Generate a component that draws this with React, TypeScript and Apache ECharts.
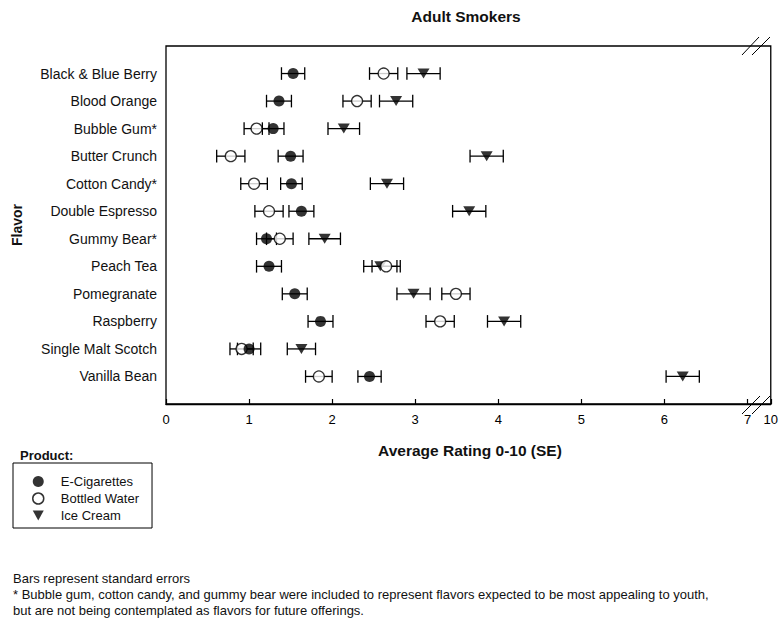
import React, { useEffect, useRef } from 'react';
import * as echarts from 'echarts';

const categories = [
  'Black & Blue Berry',
  'Blood Orange',
  'Bubble Gum*',
  'Butter Crunch',
  'Cotton Candy*',
  'Double Espresso',
  'Gummy Bear*',
  'Peach Tea',
  'Pomegranate',
  'Raspberry',
  'Single Malt Scotch',
  'Vanilla Bean',
];

const eCigMean = [1.53, 1.36, 1.29, 1.5, 1.51, 1.63, 1.21, 1.24, 1.55, 1.86, 1.0, 2.45];
const eCigSE = [0.14, 0.15, 0.13, 0.15, 0.13, 0.15, 0.12, 0.15, 0.15, 0.15, 0.14, 0.14];
const waterMean = [2.62, 2.3, 1.09, 0.78, 1.06, 1.24, 1.37, 2.65, 3.49, 3.3, 0.91, 1.84];
const waterSE = [0.17, 0.17, 0.15, 0.17, 0.16, 0.17, 0.16, 0.17, 0.17, 0.17, 0.14, 0.16];
const iceMean = [3.1, 2.77, 2.14, 3.86, 2.66, 3.65, 1.91, 2.58, 2.98, 4.07, 1.63, 6.22];
const iceSE = [0.2, 0.2, 0.19, 0.2, 0.2, 0.2, 0.19, 0.2, 0.2, 0.2, 0.17, 0.2];

const xTickLabels = ['0', '1', '2', '3', '4', '5', '6', '7', '10'];
const xTickValues = [0, 1, 2, 3, 4, 5, 6, 7, 7.28];
const seriesNames = ['E-Cigarettes', 'Bottled Water', 'Ice Cream'];

const FONT = "'Liberation Sans', Arial, Helvetica, sans-serif";

export default function App() {
  const ref = useRef<HTMLDivElement>(null);

  useEffect(() => {
    document.body.style.margin = '0';
    const chart = echarts.init(ref.current as HTMLDivElement, null, { renderer: 'svg' });

    const errData = (mean: number[], se: number[]) =>
      mean.map((m, i) => [i + 1, m - se[i], m + se[i]]);
    const ptData = (mean: number[]) => mean.map((m, i) => [m, i + 1]);

    const errSeries = (data: number[][]) => ({
      type: 'custom',
      silent: true,
      data,
      encode: { x: [1, 2], y: 0 },
      renderItem: (params: any, api: any) => {
        const y = api.value(0);
        const p1 = api.coord([api.value(1), y]);
        const p2 = api.coord([api.value(2), y]);
        const h = 6.3;
        const style = { stroke: '#000', lineWidth: 1.3 };
        return {
          type: 'group',
          children: [
            { type: 'line', shape: { x1: p1[0], y1: p1[1], x2: p2[0], y2: p2[1] }, style },
            { type: 'line', shape: { x1: p1[0], y1: p1[1] - h, x2: p1[0], y2: p1[1] + h }, style },
            { type: 'line', shape: { x1: p2[0], y1: p2[1] - h, x2: p2[0], y2: p2[1] + h }, style },
          ],
        };
      },
    });

    const option: any = {
      animation: false,
      backgroundColor: '#fff',
      textStyle: { fontFamily: FONT },
      grid: {
        left: 166,
        right: 8,
        top: 46,
        bottom: 217,
        show: true,
        borderColor: '#000',
        borderWidth: 1.3,
        backgroundColor: 'transparent',
      },
      xAxis: {
        type: 'value',
        position: 'bottom',
        min: 0,
        max: 7.28,
        interval: 1,
        splitLine: { show: false },
        axisLine: { show: true, onZero: false, lineStyle: { color: '#000', width: 1.3 } },
        axisTick: {
          show: true,
          inside: true,
          length: 5,
          lineStyle: { color: '#000', width: 1.2 },
        },
        axisLabel: {
          customValues: xTickValues,
          formatter: (v: number) => {
            const idx = xTickValues.findIndex((t) => Math.abs(t - v) < 1e-6);
            return idx >= 0 ? xTickLabels[idx] : '';
          },
          color: '#000',
          fontSize: 13,
          fontFamily: FONT,
          margin: 9,
        },
      },
      yAxis: {
        type: 'value',
        inverse: true,
        min: 0,
        max: 13,
        interval: 1,
        splitLine: { show: false },
        axisLine: { show: false, onZero: false },
        axisTick: { show: false },
        axisLabel: {
          formatter: (v: number) => categories[Math.round(v) - 1] || '',
          color: '#111',
          fontSize: 14,
          fontFamily: FONT,
          margin: 9,
          showMinLabel: false,
          showMaxLabel: false,
        },
      },
      legend: {
        orient: 'vertical',
        left: 13,
        top: 463,
        padding: [12, 13, 6, 19],
        borderColor: '#000',
        borderWidth: 1,
        itemGap: 4,
        itemWidth: 11,
        itemHeight: 11,
        selectedMode: false,
        textStyle: {
          fontSize: 13,
          lineHeight: 12,
          color: '#111',
          fontFamily: FONT,
          padding: [0, 0, 0, 12],
        },
        data: [
          { name: seriesNames[0], icon: 'circle', itemStyle: { color: '#000', borderWidth: 0 } },
          {
            name: seriesNames[1],
            icon: 'circle',
            itemStyle: { color: '#fff', borderColor: '#000', borderWidth: 1.5 },
          },
          { name: seriesNames[2], icon: 'path://M0,0L10,0L5,9Z', itemStyle: { color: '#000', borderWidth: 0 } },
        ],
      },
      graphic: [
        {
          type: 'text',
          style: {
            text: 'Adult Smokers',
            x: 466,
            y: 16,
            align: 'center',
            verticalAlign: 'middle',
            font: `bold 15.5px ${FONT}`,
            fill: '#111',
          },
        },
        {
          type: 'text',
          style: {
            text: 'Average Rating 0-10 (SE)',
            x: 470,
            y: 450,
            align: 'center',
            verticalAlign: 'middle',
            font: `bold 15.5px ${FONT}`,
            fill: '#111',
          },
        },
        {
          type: 'text',
          x: 17,
          y: 225,
          rotation: Math.PI / 2,
          style: {
            text: 'Flavor',
            x: 0,
            y: 0,
            align: 'center',
            verticalAlign: 'middle',
            font: `bold 14px ${FONT}`,
            fill: '#111',
          },
        },
        {
          type: 'text',
          style: {
            text: 'Product:',
            x: 20,
            y: 455,
            align: 'left',
            verticalAlign: 'middle',
            font: `bold 13px ${FONT}`,
            fill: '#111',
          },
        },
        {
          type: 'text',
          style: {
            text: 'Bars represent standard errors',
            x: 13,
            y: 578,
            align: 'left',
            verticalAlign: 'middle',
            font: `13px ${FONT}`,
            fill: '#111',
          },
        },
        {
          type: 'text',
          style: {
            text: '* Bubble gum, cotton candy, and gummy bear were included to represent flavors expected to be most appealing to youth,',
            x: 13,
            y: 594,
            align: 'left',
            verticalAlign: 'middle',
            font: `13px ${FONT}`,
            fill: '#111',
          },
        },
        {
          type: 'text',
          style: {
            text: 'but are not being contemplated as flavors for future offerings.',
            x: 13,
            y: 610,
            align: 'left',
            verticalAlign: 'middle',
            font: `13px ${FONT}`,
            fill: '#111',
          },
        },
        // axis break marks (bottom)
        { type: 'line', shape: { x1: 742, y1: 414, x2: 760, y2: 396 }, style: { stroke: '#000', lineWidth: 1 } },
        { type: 'line', shape: { x1: 752, y1: 414, x2: 770, y2: 396 }, style: { stroke: '#000', lineWidth: 1 } },
        // axis break marks (top)
        { type: 'line', shape: { x1: 742, y1: 55, x2: 759, y2: 37 }, style: { stroke: '#000', lineWidth: 1 } },
        { type: 'line', shape: { x1: 752, y1: 55, x2: 770, y2: 37 }, style: { stroke: '#000', lineWidth: 1 } },
      ],
      series: [
        errSeries(errData(iceMean, iceSE)),
        {
          name: seriesNames[2],
          type: 'scatter',
          data: ptData(iceMean),
          symbol: 'triangle',
          symbolRotate: 180,
          symbolSize: [12, 10],
          itemStyle: { color: '#000' },
          silent: true,
        },
        errSeries(errData(waterMean, waterSE)),
        {
          name: seriesNames[1],
          type: 'scatter',
          data: ptData(waterMean),
          symbol: 'circle',
          symbolSize: 11,
          itemStyle: { color: '#fff', borderColor: '#000', borderWidth: 1.3 },
          silent: true,
        },
        errSeries(errData(eCigMean, eCigSE)),
        {
          name: seriesNames[0],
          type: 'scatter',
          data: ptData(eCigMean),
          symbol: 'circle',
          symbolSize: 11,
          itemStyle: { color: '#000' },
          silent: true,
        },
      ],
    };

    chart.setOption(option);
    return () => chart.dispose();
  }, []);

  return <div ref={ref} style={{ width: 781, height: 621 }} />;
}
